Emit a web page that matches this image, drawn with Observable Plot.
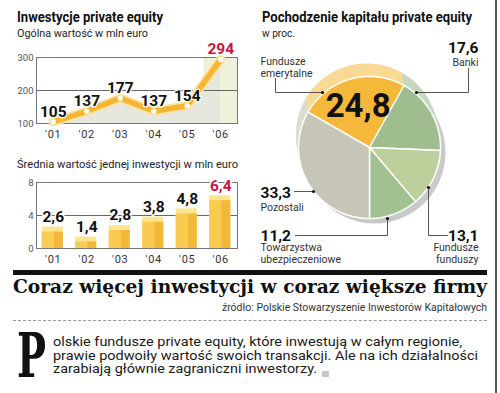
<!DOCTYPE html>
<html><head><meta charset="utf-8">
<script src="https://cdn.jsdelivr.net/npm/d3@7"></script>
<script src="https://cdn.jsdelivr.net/npm/@observablehq/plot@0.6"></script>
<style>
body{margin:0;background:#fff;}
#root{position:relative;width:500px;height:393px;overflow:hidden;background:#fff;font-family:Roboto,"Noto Sans",sans-serif;}
#root svg{position:absolute;}
.t{position:absolute;white-space:nowrap;}
svg g[aria-label^="y-axis"] text{font-size:9.5px;fill:#555;}
svg g[aria-label^="x-axis"] text{letter-spacing:0.8px;fill:#333;}
svg g[aria-label="names"] text{letter-spacing:0.9px;}
svg g[aria-label="shadow"]{filter:blur(5px);}
</style></head><body><div id="root"></div>
<script>
// ---- data ----
const years = ["'01","'02","'03","'04","'05","'06"];
const totalValue = [105, 137, 177, 137, 154, 294];
const avgValue = [2.6, 1.4, 2.8, 3.8, 4.8, 6.4];
const totalTicks = [100, 200, 300];
const avgTicks = [0, 4, 8];
const sources = ["Fundusze emerytalne", "Banki", "Fundusze funduszy", "Towarzystwa ubezpieczeniowe", "Pozostali"];
const shares = [24.8, 17.6, 13.1, 11.2, 33.3];

// ---- styles ----
const sliceColors = ["#f6b83a", "#a0bd8f", "#bdd09b", "#a2c190", "#c6c5b7"];
const sliceBack = ["#f9d994", "#c6d8bd", "#d6e2c0", "#c8dabc", "#dddcd2"];
const RED = "#c8193f";
const fmt = v => v.toFixed(1).replace(".", ",");

const root = document.getElementById("root");
function place(el, left, top) { el.style.left = left + "px"; el.style.top = top + "px"; root.appendChild(el); }
function addText(str, o) {
  const d = document.createElement("div");
  d.className = "t";
  d.textContent = str;
  Object.assign(d.style, {fontSize: o.size + "px", lineHeight: o.size + "px", fontWeight: o.weight || 400,
    fontFamily: o.family || "Roboto", color: o.color || "#222"});
  place(d, o.x, o.base - 0.845 * o.size);
  if (o.width) {
    const w = d.getBoundingClientRect().width;
    d.style.transformOrigin = "0 0";
    d.style.transform = `scaleX(${o.width / w})`;
    if (o.right != null) d.style.left = (o.right - o.width) + "px";
  }
  return d;
}
function addBox(left, top, w, h, css) {
  const d = document.createElement("div");
  Object.assign(d.style, {position: "absolute", width: w + "px", height: h + "px"}, css);
  place(d, left, top);
}

// ---- chart 1: total value line ----
const lineData = years.map((y, i) => ({i: i + 1, year: y, v: totalValue[i], last: i === years.length - 1}));
const xOpts = {domain: [0.5, years.length + 0.5], ticks: years.map((_, i) => i + 1), tickFormat: i => years[i - 1], tickSize: 0, tickPadding: 7, label: null};
const baseStyle = {fontFamily: "Roboto", fontSize: "11px", color: "#333", background: "transparent", overflow: "visible"};

const chart1 = Plot.plot({
  width: 250, height: 100, marginLeft: 36, marginRight: 13, marginTop: 17, marginBottom: 17,
  style: baseStyle,
  x: xOpts,
  y: {domain: [100, 300], ticks: totalTicks, tickSize: 0, tickPadding: 3, label: null},
  marks: [
    Plot.rect(lineData.filter(d => d.last), {x1: d => d.i - 0.5, x2: d => d.i + 0.5, y1: 100, y2: 300, fill: "#eff1db"}),
    Plot.areaY(lineData, {x: "i", y1: 100, y2: "v", fill: "#e6e7df"}),
    Plot.ruleY([200], {stroke: "#666"}),
    Plot.frame({stroke: "#777"}),
    Plot.line(lineData, {x: "i", y: "v", stroke: "#fce5a3", strokeWidth: 9, strokeLinejoin: "round", strokeLinecap: "round"}),
    Plot.line(lineData, {x: "i", y: "v", stroke: "#f6b534", strokeWidth: 5.5, strokeLinejoin: "round", strokeLinecap: "round"}),
    Plot.dot(lineData, {x: "i", y: "v", r: 2.8, fill: "#fffaf0"}),
    Plot.text(lineData.filter(d => !d.last), {x: "i", y: "v", text: d => String(d.v), dy: -5, lineAnchor: "bottom", fontSize: 15.5, fontWeight: "bold", fill: "#111", stroke: "white", strokeWidth: 2.5, paintOrder: "stroke"}),
    Plot.text(lineData.filter(d => d.last), {x: "i", y: "v", text: d => String(d.v), dy: -5, lineAnchor: "bottom", fontSize: 15.5, fontWeight: "bold", fill: RED, stroke: "white", strokeWidth: 2.5, paintOrder: "stroke"})
  ]
});
place(chart1, 0, 40);

// ---- chart 2: average value bars ----
const barData = years.map((y, i) => ({i: i + 1, v: avgValue[i], last: i === years.length - 1}));
const chart2 = Plot.plot({
  width: 250, height: 100, marginLeft: 36, marginRight: 13, marginTop: 12, marginBottom: 22,
  style: baseStyle,
  x: xOpts,
  y: {domain: [0, 8], ticks: avgTicks, tickSize: 0, tickPadding: 3, label: null},
  marks: [
    Plot.ruleY([4], {stroke: "#666"}),
    Plot.rect(barData, {x1: d => d.i - 0.33, x2: d => d.i + 0.30, y1: 0, y2: "v", fill: "#fde493"}),
    Plot.rect(barData, {x1: d => d.i - 0.33, x2: d => d.i + 0.03, y1: 0, y2: "v", insetTop: 5, fill: "#f9cb50"}),
    Plot.rect(barData, {x1: d => d.i + 0.03, x2: d => d.i + 0.30, y1: 0, y2: "v", insetTop: 5, fill: "#f2b838"}),
    Plot.frame({stroke: "#777"}),
    Plot.text(barData.filter(d => !d.last), {x: "i", y: "v", text: d => fmt(d.v), dy: -5, lineAnchor: "bottom", fontSize: 15.5, fontWeight: "bold", fill: "#111", stroke: "white", strokeWidth: 3, paintOrder: "stroke"}),
    Plot.text(barData.filter(d => d.last), {x: "i", y: "v", text: d => fmt(d.v), dy: -5, lineAnchor: "bottom", fontSize: 15.5, fontWeight: "bold", fill: RED, stroke: "white", strokeWidth: 3, paintOrder: "stroke"})
  ]
});
place(chart2, 0, 170);

// ---- chart 3: pie ----
const cx = 369, cy = 147, R = 71;
const pieData = sources.map((name, k) => ({name, value: shares[k]}));
const total = d3.sum(shares);
// rotate so the boundary before "Pozostali" points straight down
const a0 = Math.PI - 2 * Math.PI * d3.sum(shares.slice(0, 4)) / total;
const arcs = d3.pie().sort(null).value(d => d.value).startAngle(a0).endAngle(a0 + 2 * Math.PI)(pieData);
function slicePolygon(a, dx, dy, key) {
  const pts = [{name: a.data.name, key, x: cx + dx, y: cy + dy}];
  const n = Math.max(2, Math.ceil((a.endAngle - a.startAngle) / 0.02));
  for (let k = 0; k <= n; k++) {
    const t = a.startAngle + (a.endAngle - a.startAngle) * k / n;
    pts.push({name: a.data.name, key, x: cx + dx + R * Math.sin(t), y: cy + dy - R * Math.cos(t)});
  }
  return pts;
}
const depth = 13;
const backPts = [];
for (let k = depth; k >= 1; k--) arcs.forEach(a => backPts.push(...slicePolygon(a, -0.2 * k, -k, a.data.name + k)));
const frontPts = arcs.flatMap(a => slicePolygon(a, 0, 0, a.data.name));

const pieScales = {
  width: 245, height: 270, margin: 0,
  x: {domain: [250, 495], axis: null},
  y: {domain: [270, 0], axis: null},
  style: {fontFamily: "Roboto", background: "transparent", overflow: "visible"}
};
const pieBack = Plot.plot({
  ...pieScales,
  color: {domain: sources, range: sliceBack},
  marks: [
    Plot.dot([{x: cx + 5, y: cy + 5}], {x: "x", y: "y", r: R, fill: "#888", fillOpacity: 0.45, ariaLabel: "shadow"}),
    Plot.line(backPts, {x: "x", y: "y", z: "key", fill: "name", curve: "linear-closed"})
  ]
});
place(pieBack, 250, 0);

// annotation layout (page pixel coordinates)
const pieNotes = {
  "Fundusze emerytalne": {inside: true, nameAt: [260, 76], anchor: "start", leader: [[275, 78], [275, 92], [322, 92]]},
  "Banki": {valueAt: [478, 52], nameAt: [478, 65], anchor: "end", leader: [[468, 68], [468, 92], [416, 92]]},
  "Fundusze funduszy": {valueAt: [478, 240], nameAt: [478, 262], anchor: "end", leader: [[447, 235], [428, 235], [428, 187]]},
  "Towarzystwa ubezpieczeniowe": {valueAt: [260, 240], nameAt: [260, 262], anchor: "start", leader: [[295, 235], [387, 235], [387, 218]]},
  "Pozostali": {valueAt: [260, 197], nameAt: [260, 210], anchor: "start", leader: [[294, 191], [313, 191]]}
};
const notes = pieData.map(d => ({...d, ...pieNotes[d.name], label: d.name.replace(" ", "\n")}));
const leaderPts = notes.flatMap(n => n.leader.map(([x, y]) => ({name: n.name, x, y})));
const dotPts = notes.map(n => { const [x, y] = n.leader[n.leader.length - 1]; return {x, y}; });
const insideArc = arcs.filter(a => pieNotes[a.data.name].inside).map(a => {
  const t = (a.startAngle + a.endAngle) / 2;
  return {x: cx + 0.6 * R * Math.sin(t), y: cy - 0.6 * R * Math.cos(t), text: fmt(a.data.value)};
});
const outside = notes.filter(n => !n.inside);
const nameText = (anchor) => Plot.text(notes.filter(n => n.anchor === anchor), {x: d => d.nameAt[0], y: d => d.nameAt[1], text: "label", textAnchor: anchor, lineAnchor: "bottom", lineHeight: 1.05, fontSize: 10.5, fill: "#333", ariaLabel: "names"});
const valueText = (anchor) => Plot.text(outside.filter(n => n.anchor === anchor), {x: d => d.valueAt[0], y: d => d.valueAt[1], text: d => fmt(d.value), textAnchor: anchor, lineAnchor: "bottom", fontSize: 15.5, fontWeight: "bold", fill: "#111"});

const pieFront = Plot.plot({
  ...pieScales,
  color: {domain: sources, range: sliceColors},
  marks: [
    Plot.line(frontPts, {x: "x", y: "y", z: "key", fill: "name", stroke: "white", strokeWidth: 1.5, strokeLinejoin: "round", curve: "linear-closed"}),
    Plot.line(leaderPts, {x: "x", y: "y", z: "name", stroke: "#555", strokeWidth: 1}),
    Plot.dot(dotPts, {x: "x", y: "y", r: 1.6, fill: "#111"}),
    Plot.text(insideArc, {x: "x", y: "y", text: "text", lineAnchor: "middle", fontSize: 33, fontWeight: "bold", fill: "#111"}),
    nameText("start"), nameText("end"), valueText("start"), valueText("end")
  ]
});
place(pieFront, 250, 0);

// ---- titles ----
addText("Inwestycje private equity", {x: 17, base: 23, size: 14.5, weight: 700, width: 146, color: "#111"});
addText("Ogólna wartość w mln euro", {x: 17, base: 37, size: 11, width: 131, color: "#222"});
addText("Średnia wartość jednej inwestycji w mln euro", {x: 17, base: 168, size: 11, width: 221, color: "#222"});
addText("Pochodzenie kapitału private equity", {x: 262, base: 23, size: 14.5, weight: 700, width: 210, color: "#111"});
addText("w proc.", {x: 262, base: 37, size: 11, width: 33, color: "#222"});

// ---- bottom block ----
addBox(495, 0, 1.5, 393, {background: "#555"});
addBox(13, 269.5, 474, 5, {background: "#111"});
addText("Coraz więcej inwestycji w coraz większe firmy", {x: 13, base: 293, size: 19, weight: 700, family: "DejaVu Serif", width: 474, color: "#111"});
addText("źródło: Polskie Stowarzyszenie Inwestorów Kapitałowych", {x: 222, right: 487, base: 311, size: 10, width: 265, color: "#333"});
addBox(13, 320, 474, 0, {borderTop: "1.5px dashed #9a9a9a"});
addText("P", {x: 17, base: 377, size: 62, weight: 700, family: "DejaVu Serif", width: 29, color: "#111"});
addText("olskie fundusze private equity, które inwestują w całym regionie,", {x: 53, base: 346, size: 13.5, width: 409, color: "#1a1a1a"});
addText("prawie podwoiły wartość swoich transakcji. Ale na ich działalności", {x: 53, base: 360, size: 13.5, width: 425, color: "#1a1a1a"});
addText("zarabiają głównie zagraniczni inwestorzy.", {x: 53, base: 373.5, size: 13.5, width: 264, color: "#1a1a1a"});
addBox(322, 371, 6.5, 6, {background: "#c8c8c8"});
</script>
</body></html>
